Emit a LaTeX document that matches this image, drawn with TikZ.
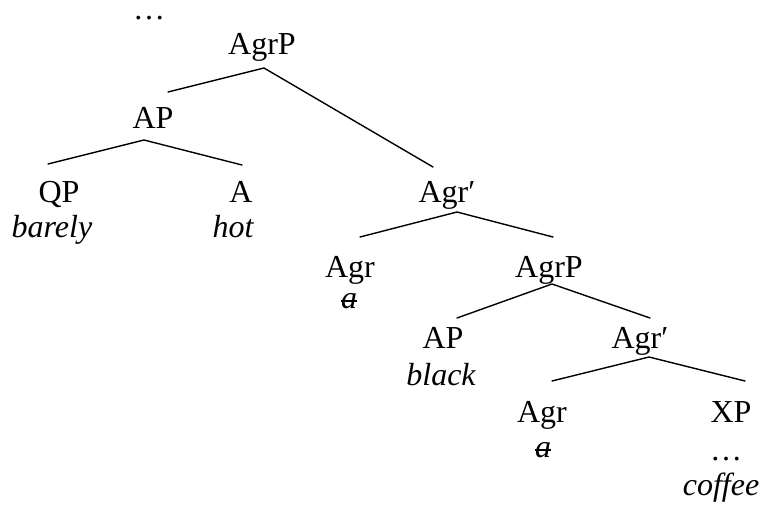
\documentclass[tikz,border=0pt]{standalone}
\usepackage{fontspec}
\setmainfont{Liberation Serif}
\newcommand{\struckA}{\ooalign{\textit{a}\cr\hidewidth\rule[0.2em]{0.5em}{0.055em}\hidewidth\cr}}
\begin{document}
\begin{tikzpicture}[x=1pt,y=-1pt,
  lab/.style={inner sep=0pt, anchor=base, font=\fontsize{32}{38}\selectfont},
  edge/.style={line width=1.4pt, line cap=round}]
\useasboundingbox (0,0) rectangle (764,504);
% labels
\node[lab] (dots1) at (149,19) {…};
\node[lab] (agrp1) at (262,54) {AgrP};
\node[lab] (ap1) at (153,128) {AP};
\node[lab] (qp) at (59,202) {QP};
\node[lab] (barely) at (52,237) {\itshape barely};
\node[lab] (a1) at (241,202) {A};
\node[lab] (hot) at (233,237) {\itshape hot};
\node[lab] (agrb1) at (447,202) {Agr′};
\node[lab] (agr1) at (350,277) {Agr};
\node[lab] (sa1) at (349,308) {\struckA};
\node[lab] (agrp2) at (549,277) {AgrP};
\node[lab] (ap2) at (443,348) {AP};
\node[lab] (black) at (441,385) {\itshape black};
\node[lab] (agrb2) at (640,348) {Agr′};
\node[lab] (agr2) at (542,422) {Agr};
\node[lab] (sa2) at (543,457) {\struckA};
\node[lab] (xp) at (731,422) {XP};
\node[lab] (dots2) at (726,460) {…};
\node[lab] (coffee) at (721,495) {\itshape coffee};
% connector ends
\coordinate (agrp1-b) at (264,68);
\coordinate (ap1-t) at (168,92);
\coordinate (agrb1-t) at (433,167);
\coordinate (ap1-b) at (144,140);
\coordinate (qp-t) at (48,164);
\coordinate (a1-t) at (242,165);
\coordinate (agrb1-b) at (457,212);
\coordinate (agr1-t) at (360,237);
\coordinate (agrp2-t) at (553,237);
\coordinate (agrp2-b) at (552,284);
\coordinate (ap2-t) at (457,318);
\coordinate (agrb2-t) at (650,318);
\coordinate (agrb2-b) at (649,357);
\coordinate (agr2-t) at (552,381);
\coordinate (xp-t) at (745,381);
% connectors
\draw[edge] (ap1-t) -- (agrp1-b) -- (agrb1-t);
\draw[edge] (qp-t) -- (ap1-b) -- (a1-t);
\draw[edge] (agr1-t) -- (agrb1-b) -- (agrp2-t);
\draw[edge] (ap2-t) -- (agrp2-b) -- (agrb2-t);
\draw[edge] (agr2-t) -- (agrb2-b) -- (xp-t);
\end{tikzpicture}
\end{document}
